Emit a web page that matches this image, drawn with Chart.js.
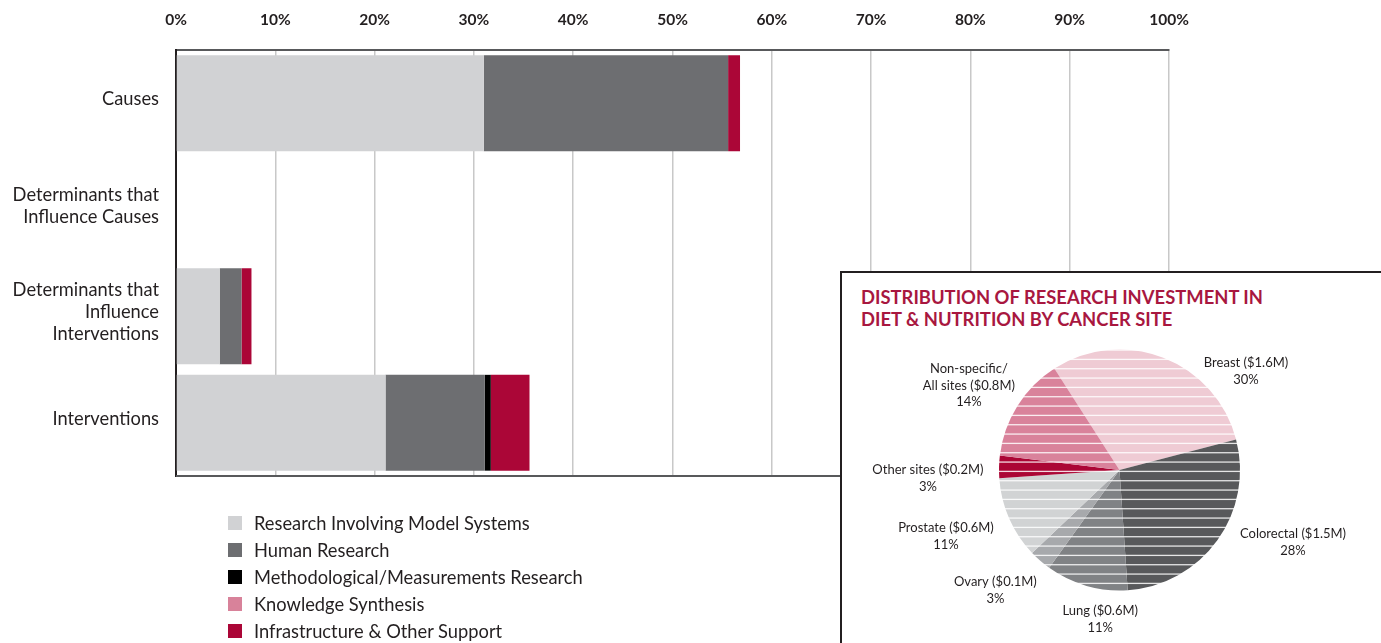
<!DOCTYPE html>
<html>
<head>
<meta charset="utf-8">
<script src="https://cdn.jsdelivr.net/npm/chart.js@4.4.0/dist/chart.umd.min.js"></script>
<style>
  html, body { margin: 0; padding: 0; background: #fff; }
  body { width: 1381px; height: 643px; position: relative; overflow: hidden; font-family: Lato, 'Open Sans', sans-serif; color: #231f20; }
  #barChart { position: absolute; left: 0; top: 0; }
  #legend { position: absolute; left: 228px; top: 509px; }
  .row { height: 27px; display: flex; align-items: center; font-size: 18.3px; }
  .sw { width: 14px; height: 14px; margin-right: 12px; }
  #box { position: absolute; left: 840px; top: 271px; width: 560px; height: 400px; border: 2px solid #231f20; background: #fff; overflow: hidden; }
  #box h2 { position: absolute; left: 19px; top: 14px; margin: 0; font-size: 18.4px; line-height: 21.5px; font-weight: 700; color: #a8173f; }
  #pieChart { position: absolute; left: 0; top: 0; }
</style>
</head>
<body>
<canvas id="barChart" width="1381" height="643"></canvas>
<div id="legend"></div>
<div id="box">
  <h2>DISTRIBUTION OF RESEARCH INVESTMENT IN<br>DIET &amp; NUTRITION BY CANCER SITE</h2>
  <canvas id="pieChart" width="539" height="370"></canvas>
</div>
<script>
// Bar chart data (% of investment)
const categories = ['Causes', ['Determinants that', 'Influence Causes'], ['Determinants that', 'Influence', 'Interventions'], 'Interventions'];
const modelSystems = [31.0, 0, 4.4, 21.1];
const humanResearch = [24.6, 0, 2.2, 10.0];
const methodological = [0, 0, 0, 0.6];
const knowledgeSynthesis = [0, 0, 0, 0];
const infrastructure = [1.2, 0, 1.0, 3.9];
const seriesNames = ['Research Involving Model Systems', 'Human Research', 'Methodological/Measurements Research', 'Knowledge Synthesis', 'Infrastructure & Other Support'];
const seriesColors = ['#d1d2d4', '#6d6e71', '#000000', '#d8829a', '#ab0637'];

// Pie chart data
const sites = ['Breast', 'Colorectal', 'Lung', 'Ovary', 'Prostate', 'Other sites', 'Non-specific/\nAll sites'];
const siteAmounts = ['$1.6M', '$1.5M', '$0.6M', '$0.1M', '$0.6M', '$0.2M', '$0.8M'];
const sitePercents = [30, 28, 11, 3, 11, 3, 14];
const siteColors = ['#efcbd4', '#58595b', '#808285', '#a7a9ac', '#d1d3d4', '#ab0635', '#d9829b'];
// label placement relative to pie centre, in units of the radius
const labelOffsets = [[1.05, -0.82], [1.44, 0.60], [-0.16, 1.24], [-1.03, 1.00], [-1.44, 0.55], [-1.59, 0.07], [-1.25, -0.70]];

const FONT = 'Lato, "Open Sans", sans-serif';

// legend
const legendEl = document.getElementById('legend');
seriesNames.forEach(function(name, i) {
  const row = document.createElement('div');
  row.className = 'row';
  row.innerHTML = '<div class="sw" style="background:' + seriesColors[i] + '"></div><span></span>';
  row.querySelector('span').textContent = name;
  legendEl.appendChild(row);
});

// bottom line of the plot frame
const frameLine = {
  id: 'frameLine',
  afterDatasetsDraw(chart) {
    const a = chart.chartArea, ctx = chart.ctx;
    ctx.save();
    ctx.strokeStyle = '#58595b';
    ctx.lineWidth = 2;
    ctx.beginPath();
    ctx.moveTo(a.left, a.bottom);
    ctx.lineTo(a.right, a.bottom);
    ctx.stroke();
    ctx.restore();
  }
};

const seriesData = [modelSystems, humanResearch, methodological, knowledgeSynthesis, infrastructure];
new Chart(document.getElementById('barChart'), {
  type: 'bar',
  data: {
    labels: categories,
    datasets: seriesNames.map(function(name, i) {
      return { label: name, data: seriesData[i], backgroundColor: seriesColors[i], borderWidth: 0, barPercentage: 0.9, categoryPercentage: 1 };
    })
  },
  options: {
    indexAxis: 'y',
    responsive: false,
    animation: false,
    layout: { padding: { left: 0, right: 212, top: 0, bottom: 167 } },
    plugins: { legend: { display: false }, tooltip: { enabled: false } },
    scales: {
      x: {
        position: 'top',
        stacked: true,
        min: 0, max: 100,
        afterFit(scale) { scale.height = 50; },
        ticks: { stepSize: 10, padding: 21, color: '#231f20', font: { family: FONT, size: 15.5, weight: 'bold' }, callback: function(v) { return v + '%'; } },
        grid: { color: '#c8c8c8', lineWidth: 1.5, drawTicks: false },
        border: { color: '#58595b', width: 2 }
      },
      y: {
        stacked: true,
        afterFit(scale) { scale.width = 176; },
        ticks: { padding: 17, labelOffset: -4, color: '#231f20', font: { family: FONT, size: 18.3, lineHeight: 1.2 } },
        grid: { display: false, drawTicks: false },
        border: { color: '#231f20', width: 2 }
      }
    }
  },
  plugins: [frameLine]
});

// striped fills for the pie
function stripes(color) {
  const c = document.createElement('canvas');
  c.width = 8; c.height = 28;
  const g = c.getContext('2d');
  g.fillStyle = color;
  g.fillRect(0, 0, 8, 28);
  g.strokeStyle = 'rgba(255,255,255,0.85)';
  g.lineWidth = 1.3;
  [2.4, 11.73, 21.07].forEach(function(y) {
    g.beginPath(); g.moveTo(0, y); g.lineTo(8, y); g.stroke();
  });
  return g.createPattern(c, 'repeat');
}

const pieLabels = {
  id: 'pieLabels',
  afterDatasetsDraw(chart) {
    const ctx = chart.ctx;
    const arcs = chart.getDatasetMeta(0).data;
    ctx.save();
    ctx.fillStyle = '#231f20';
    ctx.font = '13px ' + FONT;
    ctx.textAlign = 'center';
    ctx.textBaseline = 'middle';
    arcs.forEach(function(arc, i) {
      const lines = (sites[i] + ' (' + siteAmounts[i] + ')').split('\n');
      lines.push(sitePercents[i] + '%');
      const cx = arc.x + labelOffsets[i][0] * arc.outerRadius;
      const cy = arc.y + labelOffsets[i][1] * arc.outerRadius;
      const lh = 16.5;
      lines.forEach(function(t, j) {
        ctx.fillText(t, cx, cy + (j - (lines.length - 1) / 2) * lh);
      });
    });
    ctx.restore();
  }
};

new Chart(document.getElementById('pieChart'), {
  type: 'pie',
  data: {
    labels: sites,
    datasets: [{ data: sitePercents, backgroundColor: siteColors.map(stripes), borderWidth: 0 }]
  },
  options: {
    responsive: false,
    animation: false,
    rotation: -32.7,
    layout: { padding: { left: 157, right: 141, top: 76.5, bottom: 52.5 } },
    plugins: { legend: { display: false }, tooltip: { enabled: false } }
  },
  plugins: [pieLabels]
});
</script>
</body>
</html>
